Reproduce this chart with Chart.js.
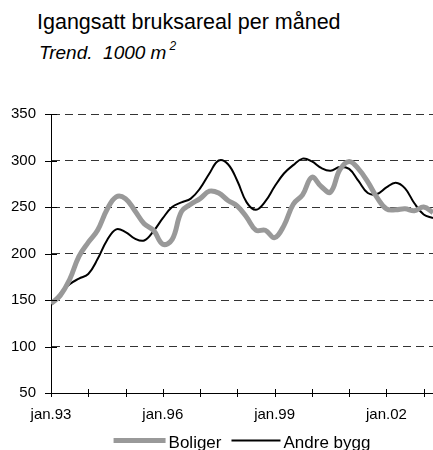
<!DOCTYPE html>
<html>
<head>
<meta charset="utf-8">
<script src="https://cdn.jsdelivr.net/npm/chart.js@4"></script>
<style>
  html, body { margin: 0; padding: 0; background: #fff; }
  body { width: 433px; height: 450px; position: relative; overflow: hidden; font-family: "Liberation Sans", Arial, sans-serif; color: #000; }
  #title { position: absolute; left: 37px; top: 11.5px; font-size: 21.5px; line-height: 21px; white-space: pre; }
  #subtitle { position: absolute; left: 39px; top: 43.2px; font-size: 19px; line-height: 19px; font-style: italic; white-space: pre; }
  #subtitle sup { font-size: 12px; vertical-align: 9px; line-height: 0; margin-left: 3px; }
  #wrap { position: absolute; left: 0; top: 0; width: 433px; height: 450px; }
</style>
</head>
<body>
<div id="title">Igangsatt bruksareal per måned</div>
<div id="subtitle">Trend.  1000 m<sup>2</sup></div>
<div id="wrap"><canvas id="c" width="433" height="450"></canvas></div>
<script>
// Months since jan.93 (quarterly samples)
const months = [0,3,6,9,12,15,18,21,24,27,30,33,36,39,42,45,48,51,54,57,60,63,66,69,72,75,78,81,84,87,90,93,96,99,102,105,108,111,114,117,120,123];
const boliger = [146,155,172,197,212,225,247,261,259,246,232,225,210,215,245,253,259,267,265,257,251,239,225,225,217,230,253,263,282,272,266,290,299,291,277,260,248,247,248,246,250,244];
const andreBygg = [146,157,167,173,178,194,214,226,223,216,214,224,238,250,255,259,270,286,300,296,278,255,247,256,272,286,295,302,299,292,289,293,291,278,265,264,271,276,270,254,242,238];
const seriesNames = ['Boliger', 'Andre bygg'];
const xTickMonths = [0, 36, 72, 108];
const xTickLabels = ['jan.93', 'jan.96', 'jan.99', 'jan.02'];
const yTicks = [50, 100, 150, 200, 250, 300, 350];

const FONT = '"Liberation Sans", Arial, sans-serif';

const crossTicks = {
  id: 'crossTicks',
  afterDraw(chart) {
    const ctx = chart.ctx, a = chart.chartArea;
    const xs = chart.scales.x, ys = chart.scales.y;
    ctx.save();
    ctx.strokeStyle = '#000';
    ctx.lineWidth = 1;
    ctx.beginPath();
    yTicks.forEach(v => {
      const y = Math.round(ys.getPixelForValue(v)) + 0.5;
      ctx.moveTo(a.left - 6, y); ctx.lineTo(a.left + 6, y);
    });
    for (let m = 0; m <= xs.max; m += 12) {
      const x = Math.round(xs.getPixelForValue(m)) + 0.5;
      ctx.moveTo(x, a.bottom - 4); ctx.lineTo(x, a.bottom + 4);
    }
    ctx.stroke();
    ctx.restore();
  }
};

const lineLegend = {
  id: 'lineLegend',
  afterDraw(chart) {
    const ctx = chart.ctx, a = chart.chartArea;
    ctx.save();
    ctx.font = '17px ' + FONT;
    ctx.textBaseline = 'alphabetic';
    const items = chart.data.datasets.map((d, i) => ({
      label: d.label, color: d.borderColor, width: d.borderWidth,
      lineLen: i === 0 ? 52 : 49,
      textW: ctx.measureText(d.label).width
    }));
    const gapLT = 3, gapItem = 10;
    let total = 0;
    items.forEach((it, i) => { total += it.lineLen + gapLT + it.textW + (i ? gapItem : 0); });
    let x = (a.left + a.right) / 2 - total / 2;
    const ly = 440.5, ty = 448.3;
    items.forEach((it, i) => {
      if (i) x += gapItem;
      ctx.strokeStyle = it.color; ctx.lineWidth = it.width; ctx.lineCap = 'butt';
      ctx.beginPath(); ctx.moveTo(x, ly); ctx.lineTo(x + it.lineLen, ly); ctx.stroke();
      x += it.lineLen + gapLT;
      ctx.fillStyle = '#000';
      ctx.fillText(it.label, x, ty);
      x += it.textW;
    });
    ctx.restore();
  }
};

new Chart(document.getElementById('c'), {
  type: 'line',
  data: {
    datasets: [
      { label: seriesNames[0], data: months.map((m, i) => ({ x: m, y: boliger[i] })),
        borderColor: '#999999', borderWidth: 5, pointRadius: 0, tension: 0.4, fill: false },
      { label: seriesNames[1], data: months.map((m, i) => ({ x: m, y: andreBygg[i] })),
        borderColor: '#000000', borderWidth: 2, pointRadius: 0, tension: 0.4, fill: false }
    ]
  },
  options: {
    responsive: false,
    animation: false,
    events: [],
    layout: { padding: { top: 114, left: 0, right: 0, bottom: 27 } },
    plugins: { legend: { display: false }, tooltip: { enabled: false }, title: { display: false } },
    scales: {
      x: {
        type: 'linear', min: 0, max: 123,
        afterBuildTicks(scale) { scale.ticks = xTickMonths.map(v => ({ value: v })); },
        afterFit(scale) { scale.height = 30; },
        ticks: {
          callback: (v) => { const i = xTickMonths.indexOf(v); return i >= 0 ? xTickLabels[i] : ''; },
          font: { family: FONT, size: 15 }, color: '#000', padding: 13, maxRotation: 0, autoSkip: false
        },
        grid: { display: false, drawTicks: false },
        border: { display: true, color: '#000', width: 1 }
      },
      y: {
        min: 50, max: 350,
        afterBuildTicks(scale) { scale.ticks = yTicks.map(v => ({ value: v })); },
        afterFit(scale) { scale.width = 51; },
        ticks: { font: { family: FONT, size: 15 }, color: '#000', padding: 15 },
        grid: { drawTicks: false, color: '#333', lineWidth: 1 },
        border: { display: true, color: '#000', width: 1, dash: [8, 5] }
      }
    }
  },
  plugins: [crossTicks, lineLegend]
});
</script>
</body>
</html>
